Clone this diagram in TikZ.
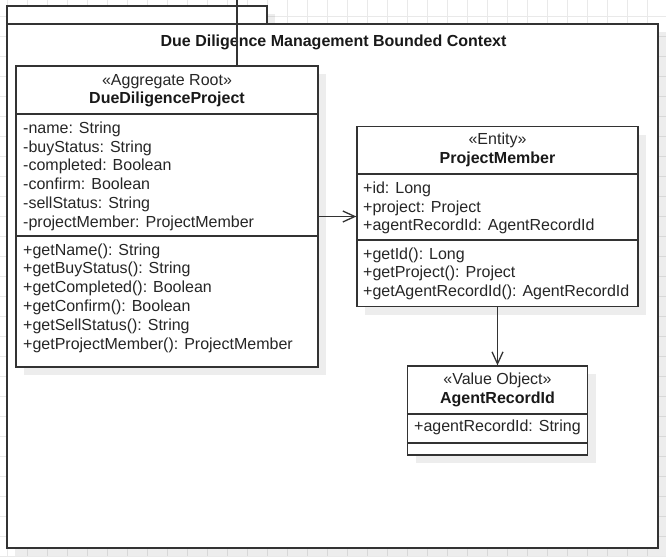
\documentclass[tikz,border=0pt]{standalone}
\usepackage{fontspec}
\setmainfont{Liberation Sans}
\usetikzlibrary{arrows.meta,shadows}
\definecolor{umlline}{HTML}{333333}
\definecolor{umltext}{HTML}{262626}
\definecolor{gridline}{HTML}{E9E9E9}

\begin{document}
\begin{tikzpicture}[x=1pt, y=-1pt,
  box/.style={draw=umlline, line width=1.3pt, fill=white, inner sep=0pt,
    drop shadow={shadow xshift=8pt, shadow yshift=-8pt, fill=black, opacity=0.07}},
  sep/.style={draw=umlline, line width=1.3pt},
  txt/.style={anchor=base west, inner sep=0pt, text=umltext, font=\fontsize{16}{18.8}\selectfont},
  ster/.style={anchor=base, inner sep=0pt, text=umltext, font=\fontsize{16}{18.8}\selectfont},
  cname/.style={anchor=base, inner sep=0pt, text=black!90, font=\fontsize{16}{18.8}\selectfont\bfseries},
  link/.style={draw=umlline, line width=1.3pt, -{Straight Barb[length=12pt, width=11pt]}}]

\useasboundingbox (0,0) rectangle (666,557);

% background grid
\foreach \i in {0,...,32} \draw[gridline, line width=1pt] (7.3+20*\i,0) -- (7.3+20*\i,557);
\foreach \j in {0,...,27} \draw[gridline, line width=1pt] (0,16.7+20*\j) -- (666,16.7+20*\j);

% bounded context package
\node[box, minimum width=260pt, minimum height=18pt] (tab) at (137,15) {};
\node[box, minimum width=651pt, minimum height=524pt] (pkg) at (332.5,286) {};
\node[cname] (pkgname) at (333.5,46.7) {Due Diligence Management Bounded Context};

% aggregate root
\node[box, minimum width=302pt, minimum height=301pt] (ddp) at (167,216.5) {};
\draw[sep] (ddp.west |- 0,114) -- (ddp.east |- 0,114);
\draw[sep] (ddp.west |- 0,236) -- (ddp.east |- 0,236);
\node[ster] (ddpster) at (167,85) {«Aggregate Root»};
\node[cname] (ddpname) at (167,103.5) {DueDiligenceProject};
\node[txt] (ddpa1) at (23,133.3) {-name: String};
\node[txt] (ddpa2) at (23,152.1) {-buyStatus: String};
\node[txt] (ddpa3) at (23,170.9) {-completed: Boolean};
\node[txt] (ddpa4) at (23,189.7) {-confirm: Boolean};
\node[txt] (ddpa5) at (23,208.5) {-sellStatus: String};
\node[txt] (ddpa6) at (23,227.3) {-projectMember: ProjectMember};
\node[txt] (ddpm1) at (23,255) {+getName(): String};
\node[txt] (ddpm2) at (23,273.8) {+getBuyStatus(): String};
\node[txt] (ddpm3) at (23,292.6) {+getCompleted(): Boolean};
\node[txt] (ddpm4) at (23,311.4) {+getConfirm(): Boolean};
\node[txt] (ddpm5) at (23,330.2) {+getSellStatus(): String};
\node[txt] (ddpm6) at (23,349) {+getProjectMember(): ProjectMember};

% entity
\node[box, minimum width=281pt, minimum height=180pt] (pm) at (497.5,216.5) {};
\draw[sep] (pm.west |- 0,174) -- (pm.east |- 0,174);
\draw[sep] (pm.west |- 0,240) -- (pm.east |- 0,240);
\node[ster] (pmster) at (497.5,144.3) {«Entity»};
\node[cname] (pmname) at (497.5,163.3) {ProjectMember};
\node[txt] (pma1) at (363,193.3) {+id: Long};
\node[txt] (pma2) at (363,212.1) {+project: Project};
\node[txt] (pma3) at (363,230.9) {+agentRecordId: AgentRecordId};
\node[txt] (pmm1) at (363,259) {+getId(): Long};
\node[txt] (pmm2) at (363,277.8) {+getProject(): Project};
\node[txt] (pmm3) at (363,296.6) {+getAgentRecordId(): AgentRecordId};

% value object
\node[box, minimum width=180pt, minimum height=89pt] (ari) at (497.5,410.5) {};
\draw[sep] (ari.west |- 0,414) -- (ari.east |- 0,414);
\draw[sep] (ari.west |- 0,443) -- (ari.east |- 0,443);
\node[ster] (arister) at (497.5,384) {«Value Object»};
\node[cname] (ariname) at (497.5,403.3) {AgentRecordId};
\node[txt] (aria1) at (414,431.7) {+agentRecordId: String};

% connectors
\coordinate (feed) at (237,0);
\draw[sep] (feed) -- (feed |- ddp.north);
\draw[link] (ddp) -- (pm);
\draw[link] (pm) -- (ari);

\end{tikzpicture}
\end{document}
